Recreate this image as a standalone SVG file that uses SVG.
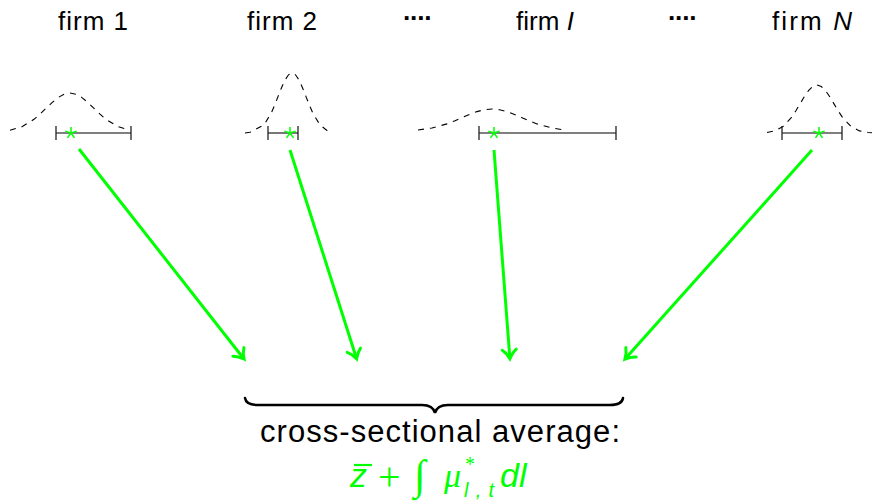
<svg xmlns="http://www.w3.org/2000/svg" width="873" height="502" viewBox="0 0 873 502">
<style>
.lbl{font-family:"Liberation Sans",Arial,sans-serif;font-size:26px;fill:#000;text-anchor:middle}
.dots{font-family:"Liberation Sans",Arial,sans-serif;font-size:26px;font-weight:bold;fill:#000;text-anchor:middle}
.curve{fill:none;stroke:#000;stroke-width:1.1;stroke-dasharray:6 6}
.bar{stroke:#555;stroke-width:1.6}
.tick{stroke:#222;stroke-width:1.3}
.star line{stroke:#00ff00;stroke-width:1.5}
.arr{stroke:#00ff00;stroke-width:3;fill:none;marker-end:url(#ah)}
.brace{fill:none;stroke:#000;stroke-width:2.5;stroke-linecap:round}
.cap{font-family:"Liberation Sans",Arial,sans-serif;font-size:31px;fill:#000;text-anchor:middle}
.m{fill:#00ff00}
.ms{font-family:"Liberation Sans",Arial,sans-serif;font-style:italic}
.mr{font-family:"Liberation Serif","Times New Roman",serif}
</style>
<defs>
<marker id="ah" markerUnits="userSpaceOnUse" markerWidth="20" markerHeight="20" viewBox="-12 -10 20 20" refX="0" refY="0" orient="auto">
<path d="M -9 -7 C -6 -3 -2 -1 0 0 C -2 1 -6 3 -9 7" fill="none" stroke="#00ff00" stroke-width="3" stroke-linecap="round"/>
</marker>
<g id="star" class="star">
<line x1="0" y1="0" x2="0" y2="-6"/>
<line x1="0" y1="0" x2="5.7" y2="-1.85"/>
<line x1="0" y1="0" x2="3.53" y2="4.85"/>
<line x1="0" y1="0" x2="-3.53" y2="4.85"/>
<line x1="0" y1="0" x2="-5.7" y2="-1.85"/>
</g>
</defs>
<rect width="873" height="502" fill="#fff"/>

<g id="firm1">
<text class="lbl" x="93" y="30" textLength="70">firm 1</text>
<polyline class="curve" points="10,130.3 22,126.7 34,119.3 40,114.1 46,108.3 52,102.6 58,97.6 64,94.2 70,93 76,94.2 82,97.6 88,102.6 94,108.3 100,114.1 106,119.3 118,126.7 130,130.3"/>
<line class="bar" x1="56" y1="133" x2="131" y2="133"/>
<line class="tick" x1="56" y1="126" x2="56" y2="140"/>
<line class="tick" x1="131" y1="126" x2="131" y2="140"/>
<use href="#star" x="71" y="133"/>
</g>

<g id="firm2">
<text class="lbl" x="282" y="30" textLength="70">firm 2</text>
<polyline class="curve" points="245,133 250,132.3 264,124.9 271,113.5 274.5,105.5 278,96.6 281.5,87.7 285,80 288.5,74.8 292,73 295.5,74.8 299,80 302.5,87.7 306,96.6 309.5,105.5 313,113.5 320,124.9 327,130.4 330,131.6"/>
<line class="bar" x1="268" y1="133" x2="298" y2="133"/>
<line class="tick" x1="268" y1="126" x2="268" y2="140"/>
<line class="tick" x1="298" y1="126" x2="298" y2="140"/>
<use href="#star" x="290" y="133"/>
</g>

<g id="dots1"><text class="dots" x="418" y="27" textLength="30">····</text></g>

<g id="firmI">
<text class="lbl" x="545" y="30">firm <tspan font-style="italic">I</tspan></text>
<polyline class="curve" points="418,130 432,128 447,123.9 454.5,120.9 462,117.7 469.5,114.4 477,111.6 484.5,109.7 492,109 499.5,109.7 507,111.6 514.5,114.4 522,117.7 529.5,120.9 537,123.9 552,128 565,130.1"/>
<line class="bar" x1="479" y1="133" x2="616" y2="133"/>
<line class="tick" x1="479" y1="126" x2="479" y2="140"/>
<line class="tick" x1="616" y1="126" x2="616" y2="140"/>
<use href="#star" x="494" y="133"/>
</g>

<g id="dots2"><text class="dots" x="683" y="27" textLength="30">····</text></g>

<g id="firmN">
<text class="lbl" x="812" y="30" textLength="80">firm <tspan font-style="italic">N</tspan></text>
<polyline class="curve" points="767,132.5 774.5,130.9 783,126.5 791.5,117.4 795.75,111 800,103.9 804.25,96.8 808.5,90.6 812.75,86.5 817,85 821.25,86.5 825.5,90.6 829.75,96.8 834,103.9 838.25,111 842.5,117.4 851,126.5 859.5,130.9 868,132.5 872,132.8"/>
<line class="bar" x1="782" y1="133" x2="842" y2="133"/>
<line class="tick" x1="782" y1="126" x2="782" y2="140"/>
<line class="tick" x1="842" y1="126" x2="842" y2="140"/>
<use href="#star" x="819" y="133"/>
</g>

<g id="connectors">
<line class="arr" x1="79" y1="149" x2="244" y2="359"/>
<line class="arr" x1="290" y1="150" x2="356.6" y2="358.8"/>
<line class="arr" x1="494" y1="150" x2="509.9" y2="358.7"/>
<line class="arr" x1="812" y1="150" x2="625" y2="359"/>
</g>

<g id="average">
<path class="brace" d="M 245 398 Q 246 405 258 405 L 422 405 Q 433 405 435 413 Q 437 405 448 405 L 610 405 Q 622 405 623 398"/>
<text class="cap" x="440" y="442" textLength="360">cross-sectional average:</text>
<g class="m">
<text class="ms" x="350" y="487" font-size="34">z</text>
<line x1="354" y1="465" x2="372" y2="465" stroke="#00ff00" stroke-width="2.2"/>
<text class="mr" x="378" y="490" font-size="40">+</text>
<text class="mr" x="414" y="489" font-size="42" font-style="italic">∫</text>
<text class="mr" x="444" y="487" font-size="34" font-style="italic">μ</text>
<text class="mr" x="465" y="471" font-size="20">*</text>
<text class="ms" x="464" y="497" font-size="20" textLength="30">l,t</text>
<text class="ms" x="500" y="487" font-size="34">dl</text>
</g>
</g>
</svg>
